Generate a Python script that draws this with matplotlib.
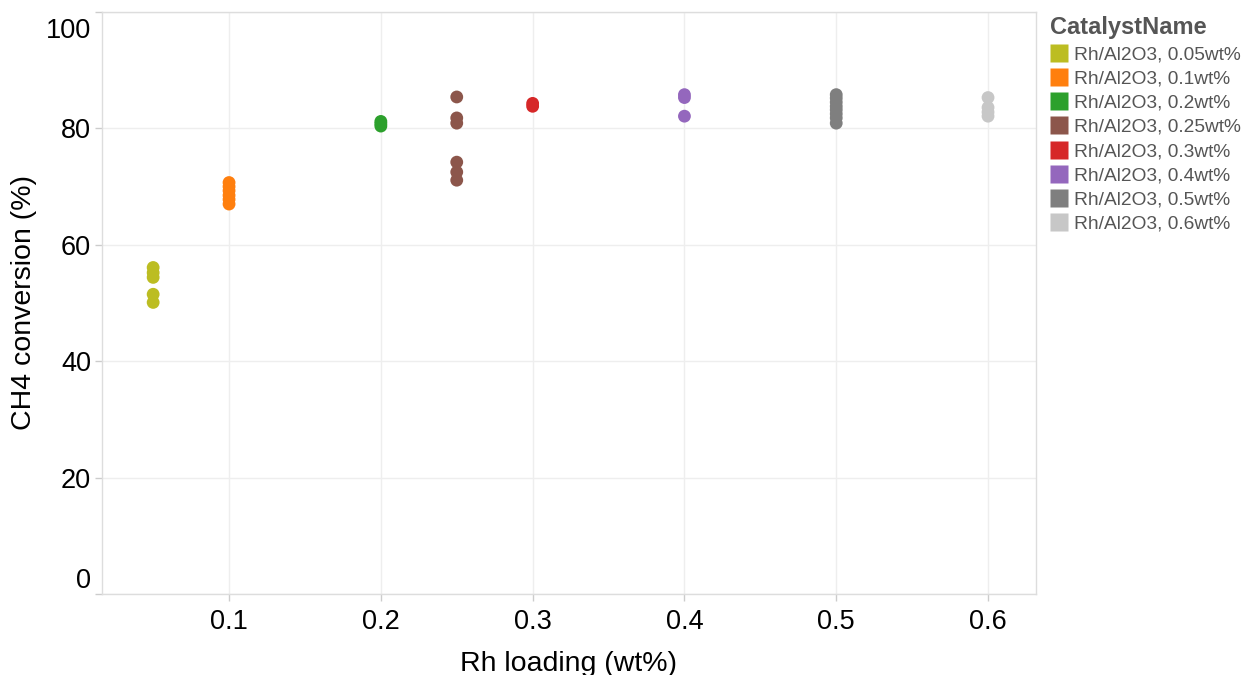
import matplotlib
matplotlib.use("Agg")
import matplotlib.pyplot as plt
from matplotlib.lines import Line2D
from matplotlib.transforms import ScaledTranslation

plt.rcParams['font.family'] = ['Liberation Sans', 'DejaVu Sans']

catalysts = ["Rh/Al2O3, 0.05wt%", "Rh/Al2O3, 0.1wt%", "Rh/Al2O3, 0.2wt%",
             "Rh/Al2O3, 0.25wt%", "Rh/Al2O3, 0.3wt%", "Rh/Al2O3, 0.4wt%",
             "Rh/Al2O3, 0.5wt%", "Rh/Al2O3, 0.6wt%"]
loadings = [0.05, 0.1, 0.2, 0.25, 0.3, 0.4, 0.5, 0.6]
colors = ["#bcbd22", "#ff7f0e", "#2ca02c", "#8c564b",
          "#d62728", "#9467bd", "#7f7f7f", "#c7c7c7"]

conv_005 = [56.1, 55.2, 54.4, 51.5, 50.1]
conv_010 = [70.7, 70.0, 69.3, 68.5, 67.8, 67.0]
conv_020 = [81.2, 80.8, 80.4]
conv_025 = [85.4, 81.8, 80.9, 74.2, 72.5, 71.1]
conv_030 = [84.3, 83.8]
conv_040 = [85.8, 85.3, 82.1]
conv_050 = [85.8, 85.2, 84.5, 83.8, 83.2, 82.5, 81.8, 80.9]
conv_060 = [85.3, 83.6, 82.8, 82.1]
conversions = [conv_005, conv_010, conv_020, conv_025,
               conv_030, conv_040, conv_050, conv_060]

x_ticks = [0.1, 0.2, 0.3, 0.4, 0.5, 0.6]
y_ticks = [0, 20, 40, 60, 80, 100]

fig = plt.figure(figsize=(12.53, 6.75), dpi=100)
ax = fig.add_axes([102 / 1253, 81 / 675, 934 / 1253, 582 / 675])

for name, xv, col, vals in zip(catalysts, loadings, colors, conversions):
    ax.scatter([xv] * len(vals), vals, s=85, color=col, edgecolors='none',
               zorder=3, label=name)

ax.set_xlim(0.0163, 0.6316)
ax.set_ylim(0, 100)
ax.set_xticks(x_ticks)
ax.set_xticklabels([f"{v:g}" for v in x_ticks])
ax.set_yticks(y_ticks)
ax.set_yticklabels([str(v) for v in y_ticks])

ax.grid(True, color='#eeeeee', linewidth=1, zorder=0)
ax.set_axisbelow(True)
for sp in ax.spines.values():
    sp.set_color('#dddddd')
    sp.set_linewidth(1)

ax.tick_params(axis='both', colors='#cccccc', labelcolor='black',
               labelsize=19.5, length=5, width=1)
ax.tick_params(axis='x', pad=6)
ax.tick_params(axis='y', pad=3)

# keep the end labels inside the axis extent
ylabels = ax.get_yticklabels()
ylabels[0].set_va('bottom')
ylabels[-1].set_va('top')
ylabels[-1].set_transform(ylabels[-1].get_transform() +
                          ScaledTranslation(0, -4 / 72, fig.dpi_scale_trans))

ax.set_xlabel("Rh loading (wt%)", fontsize=20.5, labelpad=11)
ax.set_ylabel("CH4 conversion (%)", fontsize=20.5, labelpad=6)

handles = [Line2D([0], [0], marker='s', linestyle='none', markersize=13,
                  markerfacecolor=c, markeredgecolor='none') for c in colors]
leg = fig.legend(handles, catalysts, title="CatalystName",
                 loc='upper left', bbox_to_anchor=(1050 / 1253, 1 - 16 / 675),
                 frameon=False, fontsize=13.75, title_fontsize=17,
                 handlelength=0.95, handletextpad=0.3, labelspacing=0.36,
                 borderaxespad=0, borderpad=0)
leg._legend_box.align = "left"
leg.get_title().set_fontweight('bold')
leg.get_title().set_color('#555555')
for t in leg.get_texts():
    t.set_color('#555555')

fig.savefig("out.png", dpi=100)
